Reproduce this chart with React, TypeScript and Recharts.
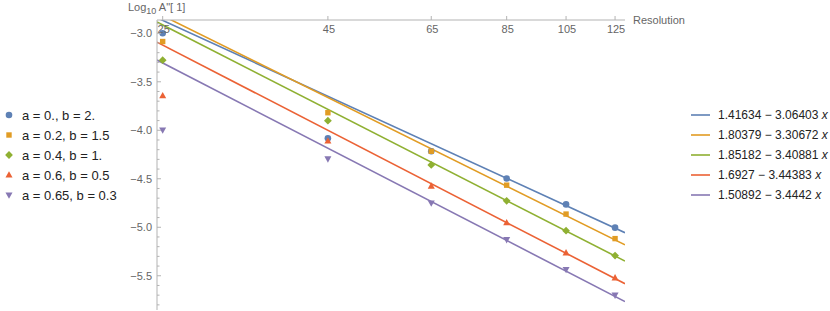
import { ComposedChart, Line, Scatter, XAxis, YAxis } from "recharts";

const RESOLUTION = [25, 45, 65, 85, 105, 125];
const X_TICKS = [25, 45, 65, 85, 105, 125];
const Y_TICKS = [-2.9, -3.0, -3.1, -3.2, -3.3, -3.4, -3.5, -3.6, -3.7, -3.8, -3.9, -4.0, -4.1, -4.2, -4.3, -4.4, -4.5, -4.6, -4.7, -4.8, -4.9, -5.0, -5.1, -5.2, -5.3, -5.4, -5.5, -5.6, -5.7, -5.8];

// log10 A''[1] per resolution, one list per (a, b)
const A0_B2 = [-3.0, -4.083, -4.216, -4.497, -4.764, -5.004];
const A02_B15 = [-3.085, -3.819, -4.216, -4.566, -4.864, -5.117];
const A04_B1 = [-3.277, -3.901, -4.357, -4.727, -5.035, -5.292];
const A06_B05 = [-3.644, -4.11, -4.576, -4.953, -5.264, -5.521];
const A065_B03 = [-3.997, -4.295, -4.75, -5.127, -5.436, -5.7];

const SERIES_NAMES = ["a = 0., b = 2.", "a = 0.2, b = 1.5", "a = 0.4, b = 1.", "a = 0.6, b = 0.5", "a = 0.65, b = 0.3"];
const SERIES_VALUES = [A0_B2, A02_B15, A04_B1, A06_B05, A065_B03];
const MARKERS = ["circle", "square", "diamond", "triangle", "down"];
const COLORS = ["#5e81b5", "#e19c24", "#8fb032", "#eb6235", "#8778b3"];

// fitted lines: intercept - slope * x, x = log10(resolution)
const FIT_INTERCEPTS = [1.41634, 1.80379, 1.85182, 1.6927, 1.50892];
const FIT_SLOPES = [3.06403, 3.30672, 3.40881, 3.44383, 3.4442];

const X_DOMAIN: [number, number] = [24.5, 129.5];
const Y_DOMAIN: [number, number] = [-5.853, -2.863];

const FONT = "'Liberation Sans', Arial, sans-serif";
const AXIS = "#b3b3b3";
const TICK_TEXT = "#666";

function Marker({ kind, cx, cy, color }: { kind: string; cx: number; cy: number; color: string }) {
  if (cx == null || cy == null) return null;
  if (kind === "circle") return <circle cx={cx} cy={cy} r={3.3} fill={color} />;
  if (kind === "square") return <rect x={cx - 2.7} y={cy - 2.7} width={5.4} height={5.4} fill={color} />;
  if (kind === "diamond")
    return <polygon points={`${cx},${cy - 3.9} ${cx + 3.9},${cy} ${cx},${cy + 3.9} ${cx - 3.9},${cy}`} fill={color} />;
  if (kind === "triangle")
    return <polygon points={`${cx},${cy - 3.8} ${cx + 3.5},${cy + 2.6} ${cx - 3.5},${cy + 2.6}`} fill={color} />;
  return <polygon points={`${cx},${cy + 3.8} ${cx + 3.5},${cy - 2.6} ${cx - 3.5},${cy - 2.6}`} fill={color} />;
}

function XTick({ x, y, payload }: any) {
  return (
    <text x={x + 1} y={y + 19} textAnchor="middle" fontSize={11} fill={TICK_TEXT} fontFamily={FONT}>
      {payload.value}
    </text>
  );
}

function YTick({ x, y, payload }: any) {
  const v = payload.value as number;
  const ax = x + 4;
  const major = Math.abs(v * 2 - Math.round(v * 2)) < 1e-6;
  return (
    <g>
      <line x1={ax} x2={ax + (major ? 4 : 2.5)} y1={y} y2={y} stroke={AXIS} />
      {major && (
        <text x={x - 1} y={y} dy="0.35em" textAnchor="end" fontSize={11} fill={TICK_TEXT} fontFamily={FONT}>
          {v.toFixed(1).replace("-", "\u2212")}
        </text>
      )}
    </g>
  );
}

export default function App() {
  const scatterData = SERIES_VALUES.map((vals) => RESOLUTION.map((r, i) => ({ x: r, y: vals[i] })));
  const fitData = FIT_INTERCEPTS.map((a, k) =>
    X_DOMAIN.map((r) => ({ x: r, y: a - FIT_SLOPES[k] * Math.log10(r) }))
  );

  return (
    <div style={{ position: "absolute", left: 0, top: 0, width: 830, height: 311, background: "#fff", fontFamily: FONT }}>
      <ComposedChart width={830} height={311} margin={{ top: 0, right: 205, bottom: 1, left: 97 }}>
        <XAxis
          type="number"
          dataKey="x"
          scale="log"
          domain={X_DOMAIN}
          allowDataOverflow
          orientation="top"
          height={20}
          ticks={X_TICKS}
          interval={0}
          tickSize={4}
          tickMargin={2}
          stroke={AXIS}
          tick={<XTick />}
        />
        <YAxis
          type="number"
          dataKey="y"
          domain={Y_DOMAIN}
          allowDataOverflow
          width={60}
          ticks={Y_TICKS}
          interval={0}
          tickSize={0}
          tickMargin={4}
          tickLine={false}
          stroke={AXIS}
          tick={<YTick />}
        />
        {fitData.map((d, k) => (
          <Line
            key={`fit-${k}`}
            data={d}
            dataKey="y"
            type="linear"
            stroke={COLORS[k]}
            strokeWidth={1.6}
            dot={false}
            activeDot={false}
            isAnimationActive={false}
          />
        ))}
        {scatterData.map((d, k) => (
          <Scatter
            key={`pts-${k}`}
            data={d}
            dataKey="y"
            fill={COLORS[k]}
            isAnimationActive={false}
            shape={(p: any) => <Marker kind={MARKERS[k]} cx={p.cx} cy={p.cy} color={COLORS[k]} />}
          />
        ))}
      </ComposedChart>

      <div style={{ position: "absolute", left: 128, top: 0, fontSize: 11, color: TICK_TEXT, lineHeight: "14px", whiteSpace: "nowrap" }}>
        Log<sub style={{ fontSize: 9, verticalAlign: "-3px" }}>10</sub> A"[ 1]
      </div>
      <div style={{ position: "absolute", left: 633, top: 13, fontSize: 11, color: TICK_TEXT, lineHeight: "14px" }}>
        Resolution
      </div>

      <div style={{ position: "absolute", left: 0, top: 105 }}>
        {SERIES_NAMES.map((name, k) => (
          <div key={name} style={{ display: "flex", alignItems: "center", height: 20, fontSize: 13, color: "#222", whiteSpace: "nowrap" }}>
            <svg width={20} height={20} style={{ flex: "none" }}>
              <Marker kind={MARKERS[k]} cx={9} cy={10} color={COLORS[k]} />
            </svg>
            <span style={{ marginLeft: 2 }}>{name}</span>
          </div>
        ))}
      </div>

      <div style={{ position: "absolute", left: 690, top: 105, width: 140 }}>
        {FIT_INTERCEPTS.map((a, k) => (
          <div key={k} style={{ display: "flex", alignItems: "center", height: 20, fontSize: 12, color: "#222", whiteSpace: "nowrap" }}>
            <svg width={22} height={20} style={{ flex: "none" }}>
              <line x1={1} x2={20} y1={10} y2={10} stroke={COLORS[k]} strokeWidth={1.6} />
            </svg>
            <span style={{ marginLeft: 6, flex: "none" }}>
              {a} {"\u2212"} {FIT_SLOPES[k]} <i>x</i>
            </span>
          </div>
        ))}
      </div>
    </div>
  );
}
